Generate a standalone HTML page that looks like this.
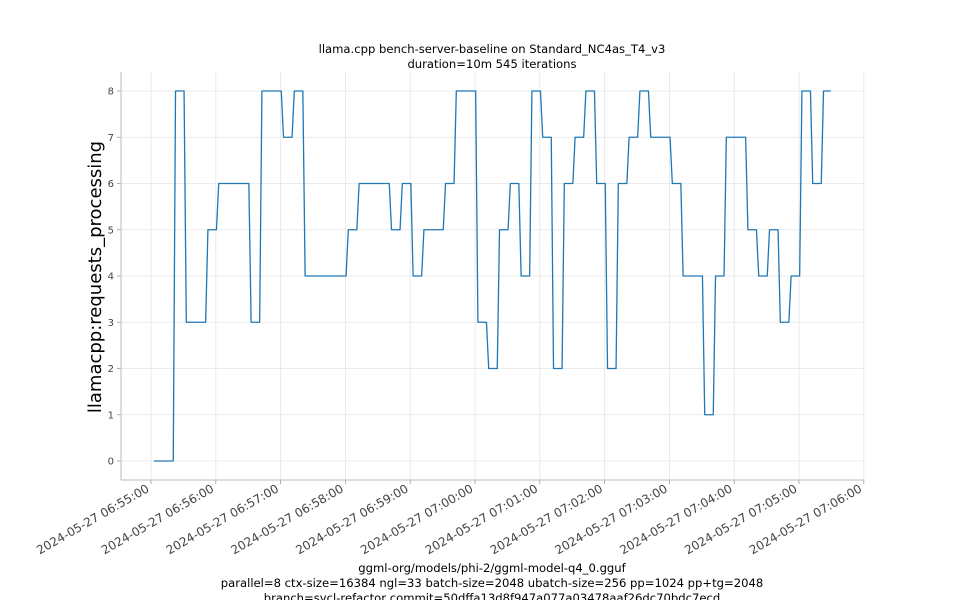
<!DOCTYPE html>
<html><head><meta charset="utf-8"><style>
html,body{margin:0;padding:0;background:#fff;}
svg{display:block;font-family:"DejaVu Sans","Liberation Sans",sans-serif;}
</style></head><body>
<svg id="chart" width="960" height="600">
<text x="492" y="53" text-anchor="middle" font-size="11.6" fill="#000">llama.cpp bench-server-baseline on Standard_NC4as_T4_v3</text>
<text x="492" y="68" text-anchor="middle" font-size="11.6" fill="#000">duration=10m 545 iterations</text>
<text transform="translate(101,277) rotate(-90)" text-anchor="middle" font-size="18" fill="#000">llamacpp:requests_processing</text>
<text x="492" y="572" text-anchor="middle" font-size="11.6" fill="#000">ggml-org/models/phi-2/ggml-model-q4_0.gguf</text>
<text x="492" y="587" text-anchor="middle" font-size="11.6" fill="#000">parallel=8 ctx-size=16384 ngl=33 batch-size=2048 ubatch-size=256 pp=1024 pp+tg=2048</text>
<text x="492" y="602" text-anchor="middle" font-size="11.6" fill="#000">branch=sycl-refactor commit=50dffa13d8f947a077a03478aaf26dc70bdc7ecd</text>
<g id="grid"></g><g id="axes"></g><g id="series"></g>
</svg>
<script>
const yTicks=[0,1,2,3,4,5,6,7,8];
const xTickLabels=["2024-05-27 06:55:00","2024-05-27 06:56:00","2024-05-27 06:57:00","2024-05-27 06:58:00","2024-05-27 06:59:00","2024-05-27 07:00:00","2024-05-27 07:01:00","2024-05-27 07:02:00","2024-05-27 07:03:00","2024-05-27 07:04:00","2024-05-27 07:05:00","2024-05-27 07:06:00"];
const xTickSec=[0,60,120,180,240,300,360,420,480,540,600,660];
const sampleStartSec=[2.7,12.7,22.7,32.7,42.7,52.7,62.7,72.7,82.7,92.7,102.7,112.7,122.7,132.7,142.7,152.7,162.7,172.7,182.7,192.7,202.7,212.7,222.7,232.7,242.7,252.7,262.7,272.7,282.7,292.7,302.7,312.7,322.7,332.7,342.7,352.7,362.7,372.7,382.7,392.7,402.7,412.7,422.7,432.7,442.7,452.7,462.7,472.7,482.7,492.7,502.7,512.7,522.7,532.7,542.7,552.7,562.7,572.7,582.7,592.7,602.7,612.7,622.7];
const sampleEndSec=sampleStartSec.map((s,i)=>i===sampleStartSec.length-1?629.5:s+7.9);
const values=[0,0,8,3,3,5,6,6,6,3,8,8,7,8,4,4,4,4,5,6,6,6,5,6,4,5,5,6,8,8,3,2,5,6,4,8,7,2,6,7,8,6,2,6,7,8,7,7,6,4,4,1,4,7,7,5,4,5,3,4,8,6,8];
const L=121,R=864,T=72,B=480;
const xs=t=>151+t*64.8/60;
const ys=v=>461-v*46.25;
const NS="http://www.w3.org/2000/svg";
function mk(tag,attrs,parent){const e=document.createElementNS(NS,tag);for(const k in attrs)e.setAttribute(k,attrs[k]);parent.appendChild(e);return e;}
const grid=document.getElementById('grid'),axes=document.getElementById('axes'),series=document.getElementById('series');
yTicks.forEach(v=>{
  const g=mk('line',{x1:L,x2:R,y1:ys(v),y2:ys(v),stroke:'#e6e6e6','stroke-width':0.8},grid);
  
  
  const tk=mk('line',{x1:L-4,x2:L,y1:ys(v),y2:ys(v),stroke:'#999','stroke-width':0.8},axes);
  
  
  const t=mk('text',{x:L-7,y:ys(v)+3.5,'text-anchor':'end','font-size':10,fill:'#444'},axes);
  t.textContent=v;
  
  
});
xTickSec.forEach((s,i)=>{
  const x=xs(s);
  const g=mk('line',{x1:x,x2:x,y1:T,y2:B,stroke:'#e6e6e6','stroke-width':0.8},grid);
  
  
  const tk=mk('line',{x1:x,x2:x,y1:B,y2:B+4,stroke:'#999','stroke-width':0.8},axes);
  
  
  const t=mk('text',{transform:`translate(${x-1},${B+11}) rotate(-30)`,'text-anchor':'end','font-size':12,fill:'#444'},axes);
  t.textContent=xTickLabels[i];
  
  
});
const ly=mk('line',{x1:L,x2:L,y1:T,y2:B,stroke:'#bbb','stroke-width':1},axes);


const lx=mk('line',{x1:L,x2:R,y1:B,y2:B,stroke:'#bbb','stroke-width':1},axes);


let pts=[];
values.forEach((v,i)=>{pts.push(xs(sampleStartSec[i]).toFixed(2)+','+ys(v).toFixed(2));pts.push(xs(sampleEndSec[i]).toFixed(2)+','+ys(v).toFixed(2));});
const pl=mk('polyline',{points:pts.join(' '),fill:'none',stroke:'#1f77b4','stroke-width':1.3,'stroke-linejoin':'round'},series);


</script>
</body></html>
